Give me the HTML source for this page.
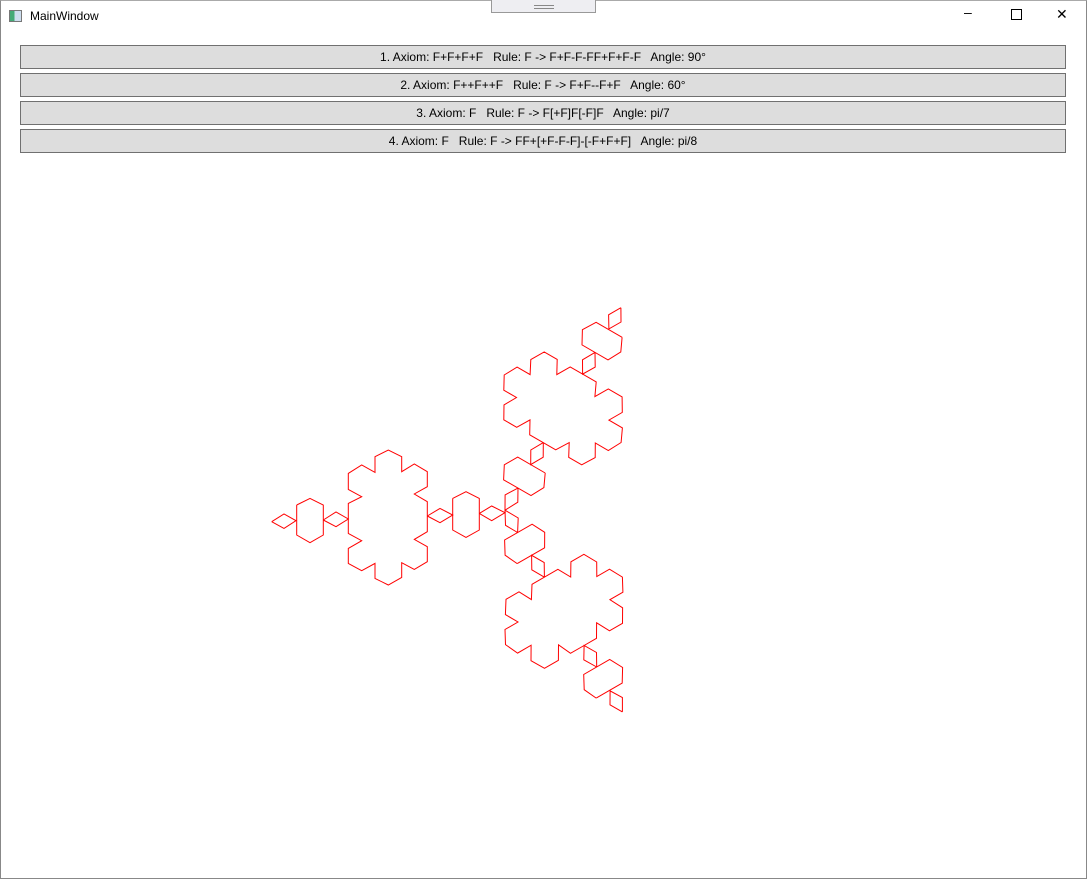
<!DOCTYPE html>
<html><head><meta charset="utf-8"><style>
body{margin:0;width:1087px;height:879px;overflow:hidden;background:#fff;font-family:"Liberation Sans",sans-serif;position:relative}
.win{position:absolute;left:0;top:0;width:1085px;height:877px;border:1px solid #888;border-top:1px solid #aaa}
.title{position:absolute;left:30px;top:9px;font-size:12px;color:#000}
.ico{position:absolute;left:9px;top:10px;width:11px;height:10px;border:1px solid #777;background:linear-gradient(90deg,#4a7 0 40%,#cde 40%)}
.grip{position:absolute;left:491px;top:0;width:103px;height:12px;background:#eeeef2;border:1px solid #999;border-top:none}
.grip:after{content:"";position:absolute;left:42px;top:5px;width:20px;height:2px;border-top:1px solid #888;border-bottom:1px solid #888}
.ctl{position:absolute;top:6px;font-size:14px;color:#000}
.btn{position:absolute;left:20px;width:1044px;height:22px;background:#dddddd;border:1px solid #707070;font-size:12px;text-align:center;line-height:22px;color:#000}
</style></head><body>
<div class="win"></div>
<div class="ico"></div>
<div class="title">MainWindow</div>
<div class="grip"></div>
<div class="ctl" style="left:964px;top:4px">&#8211;</div>
<div class="ctl" style="left:1011px;top:9px;width:9px;height:9px;border:1px solid #000"></div>
<div class="ctl" style="left:1056px;top:6px">&#10005;</div>
<div class="btn" style="top:45px">1. Axiom: F+F+F+F&nbsp;&nbsp; Rule: F -&gt; F+F-F-FF+F+F-F&nbsp;&nbsp; Angle: 90°</div>
<div class="btn" style="top:73px">2. Axiom: F++F++F&nbsp;&nbsp; Rule: F -&gt; F+F--F+F&nbsp;&nbsp; Angle: 60°</div>
<div class="btn" style="top:101px">3. Axiom: F&nbsp;&nbsp; Rule: F -&gt; F[+F]F[-F]F&nbsp;&nbsp; Angle: pi/7</div>
<div class="btn" style="top:129px">4. Axiom: F&nbsp;&nbsp; Rule: F -&gt; FF+[+F-F-F]-[-F+F+F]&nbsp;&nbsp; Angle: pi/8</div>
<svg id="fr" width="1087" height="879" style="position:absolute;left:0;top:0"></svg>
<script>
const branchAngles=[0,120,240];
const diamondA=[[35,245],[72,222],[108,242],[72,265],[35,245]];
const hexB=[[110,195],[150,175],[190,195],[190,285],[150,308],[110,285],[110,195]];
const diamondC=[[190,240],[228,216],[265,237],[228,260],[190,240]];
const flakeD=[[265,237],[265,280],[305,302],[265,325],[265,370],[305,392],[345,370],[345,415],[385,435],[425,412],[425,368],[463,388],[502,365],[502,320],[463,298],[502,275],[502,185],[463,162],[502,140],[502,95],[463,72],[425,95],[425,50],[385,30],[345,50],[345,97],[305,75],[265,100],[265,148],[305,170],[265,190],[265,237]];
const diamondE=[[502,228],[540,205],[578,225],[540,248],[502,228]];
const hexF=[[578,175],[618,155],[658,175],[658,270],[618,292],[578,270],[578,175]];
const diamondG=[[658,220],[695,198],[735,218],[695,242],[658,220]];
const shapes=[diamondA,hexB,diamondC,flakeD,diamondE,hexF,diamondG];
const J=[735,218];
const svg=document.getElementById('fr');
const NS='http://www.w3.org/2000/svg';
branchAngles.forEach((a,bi)=>{
  const t=a*Math.PI/180,c=Math.cos(t),s=Math.sin(t);
  const dy=a!==0?-2.5:0;
  shapes.forEach((sh,si)=>{
    const pts=sh.map(p=>{const x=(p[0]-J[0])/3;let y=(p[1]-J[1])/3;
      if(a!==0) y+=x*0.035;
      return (505+x*c-y*s).toFixed(1)+','+(512.7+dy+x*s+y*c).toFixed(1);}).join(' ');
    const pl=document.createElementNS(NS,'polyline');
    pl.setAttribute('points',pts);
    pl.setAttribute('fill','none');pl.setAttribute('stroke','#ff0000');pl.setAttribute('stroke-width','1');
    
    
    svg.appendChild(pl);
  });
});
</script>
</body></html>
